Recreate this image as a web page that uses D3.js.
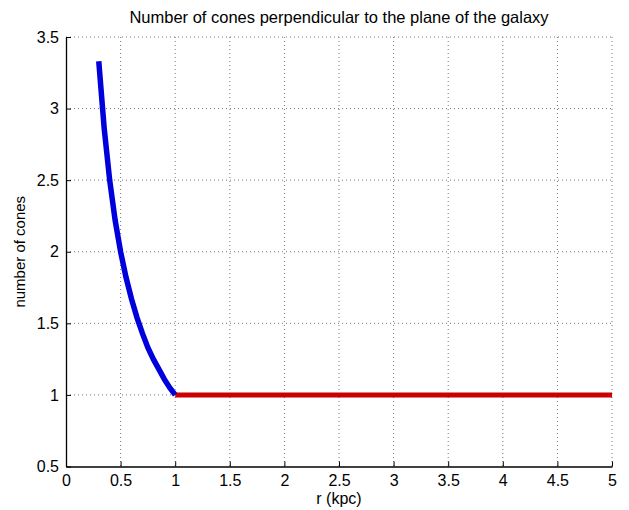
<!DOCTYPE html>
<html><head><meta charset="utf-8">
<script src="https://cdn.jsdelivr.net/npm/d3@7"></script>
<style>body{margin:0;background:#fff}svg{display:block}text{font-family:"Liberation Sans",Arial,sans-serif;fill:#000}</style>
</head><body><svg id="c" width="629" height="510"></svg>
<script>
const xTicks = [0,0.5,1,1.5,2,2.5,3,3.5,4,4.5,5];
const yTicks = [0.5,1,1.5,2,2.5,3,3.5];
const innerR = [0.3,0.35,0.4,0.45,0.5,0.55,0.6,0.65,0.7,0.75,0.8,0.85,0.9,0.95,1.0];
const innerN = [3.33,2.86,2.5,2.22,2.0,1.82,1.67,1.54,1.43,1.33,1.25,1.18,1.11,1.05,1.0];
const outerR = [1.0,5.0];
const outerN = [1.0,1.0];

const svg = d3.select("#c");
const L=66, R=612, T=37, B=466.5;
const x = d3.scaleLinear().domain([0,5]).range([L,R]);
const y = d3.scaleLinear().domain([0.5,3.5]).range([B,T]);

// grid
const g = svg.append("g");
xTicks.forEach(t=>{ if(t>0) g.append("line").attr("x1",x(t)).attr("x2",x(t)).attr("y1",T).attr("y2",B)
  .attr("stroke","#777").attr("stroke-width",1).attr("stroke-dasharray","1,3"); });
yTicks.forEach(t=>{ if(t>0.5) g.append("line").attr("x1",L).attr("x2",R).attr("y1",y(t)).attr("y2",y(t))
  .attr("stroke","#777").attr("stroke-width",1).attr("stroke-dasharray","1,3"); });

// axes
const xa = svg.append("g").attr("transform",`translate(0,${B})`)
  .call(d3.axisBottom(x).tickValues(xTicks).tickFormat(d3.format("")).tickSizeInner(-5).tickSizeOuter(0).tickPadding(8));
const ya = svg.append("g").attr("transform",`translate(${L},0)`)
  .call(d3.axisLeft(y).tickValues(yTicks).tickFormat(d3.format("")).tickSizeInner(-5).tickSizeOuter(0).tickPadding(7));
[xa,ya].forEach(a=>{
  a.select(".domain").attr("stroke","#000").attr("stroke-width",1.3);
  a.selectAll(".tick line").attr("stroke","#000");
  a.selectAll("text").style("font-size","16px").attr("fill","#222");
});

// lines
const line = d3.line().x(d=>x(d[0])).y(d=>y(d[1]));
svg.append("path").datum(outerR.map((r,i)=>[r,outerN[i]]))
  .attr("d",line).attr("fill","none").attr("stroke","#cc0000").attr("stroke-width",5);
svg.append("path").datum(innerR.map((r,i)=>[r,innerN[i]]))
  .attr("d",line).attr("fill","none").attr("stroke","#0000dd").attr("stroke-width",5.5).attr("stroke-linejoin","miter");

// texts
svg.append("text").attr("x",(L+R)/2).attr("y",23).attr("text-anchor","middle")
  .style("font-size","16.5px").attr("fill","#111").text("Number of cones perpendicular to the plane of the galaxy");
svg.append("text").attr("x",(L+R)/2).attr("y",504).attr("text-anchor","middle")
  .style("font-size","16px").attr("fill","#111").text("r (kpc)");
svg.append("text").attr("transform",`translate(25,${(T+B)/2}) rotate(-90)`).attr("text-anchor","middle")
  .style("font-size","15px").attr("fill","#111").text("number of cones");
</script></body></html>
